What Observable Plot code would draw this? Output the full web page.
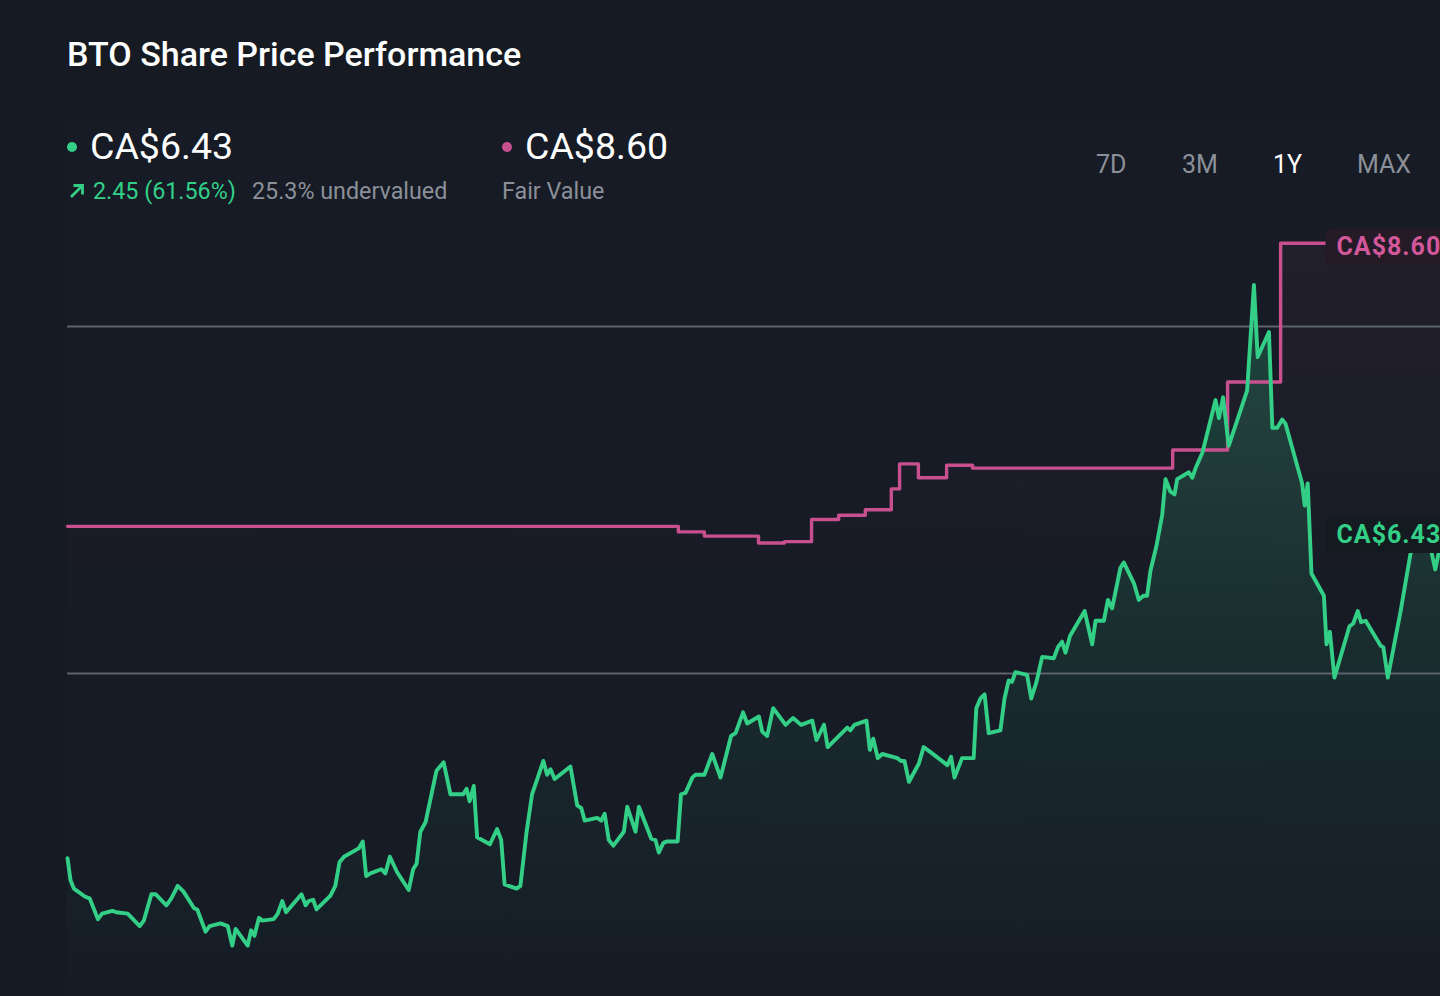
<!DOCTYPE html>
<html>
<head>
<meta charset="utf-8">
<script src="https://cdn.jsdelivr.net/npm/d3@7"></script>
<script src="https://cdn.jsdelivr.net/npm/@observablehq/plot@0.6"></script>
<style>
html,body{margin:0;padding:0;background:#151a23;width:1440px;height:996px;overflow:hidden;font-family:Roboto,"Noto Sans",sans-serif;}
#panel{position:absolute;left:67px;top:118px;width:1373px;height:878px;background:#161b25;}
#header{position:relative;height:215px;}
.abs{position:absolute;line-height:1;white-space:nowrap;}
.title{left:67px;top:37px;font-size:34px;font-weight:500;color:#ffffff;}
.big{font-size:37.5px;color:#ffffff;font-weight:400;}
.sub{font-size:23.3px;}
.dot{position:absolute;width:10px;height:10px;border-radius:50%;}
.per{font-size:25px;color:#8b9099;top:152px;}
#chart{position:relative;}
</style>
</head>
<body>
<div id="panel"></div>
<div id="header">
  <div class="abs title">BTO Share Price Performance</div>
  <div class="dot" style="left:67px;top:142px;background:#33cf87"></div>
  <div class="abs big" style="left:90px;top:128px">CA$6.43</div>
  <div class="abs sub" style="left:68px;top:180px;color:#33cf87">
    <svg width="18" height="18" viewBox="0 0 18 18" style="vertical-align:-1px;margin-right:7px"><path d="M3 15 L14 4 M5.5 3.5 H14.5 V12.5" stroke="#33cf87" stroke-width="2.8" fill="none"/></svg>2.45 (61.56%)</div>
  <div class="abs sub" style="left:252px;top:180px;color:#8b9099">25.3% undervalued</div>
  <div class="dot" style="left:502px;top:142px;background:#c8508f"></div>
  <div class="abs big" style="left:525px;top:128px">CA$8.60</div>
  <div class="abs sub" style="left:502px;top:180px;color:#8b9099">Fair Value</div>
  <div class="abs per" style="left:1096px">7D</div>
  <div class="abs per" style="left:1182px">3M</div>
  <div class="abs per" style="left:1273px;color:#ffffff">1Y</div>
  <div class="abs per" style="left:1357px">MAX</div>
</div>
<div id="chart"></div>
<script>
// Days since start of the 1Y window, and closing price (CA$)
const priceDays = [0,0.8,1.7,4.8,5.9,8.1,9.2,11.9,13.0,16.0,
19.2,20.3,22.3,23.4,26.3,27.6,29.3,30.8,33.6,34.5,
36.7,37.8,40.7,42.6,43.8,44.7,47.9,48.8,49.7,50.9,
51.8,54.8,55.9,57.1,58.1,62.2,63.3,64.1,65.3,66.2,
69.9,71.2,72.3,73.5,77.4,78.5,79.4,80.5,83.4,84.5,
85.7,87.6,90.7,91.9,92.8,93.8,95.2,98.1,100.0,101.8,
105.2,106.1,106.9,108.0,108.9,112.3,114.2,115.3,116.2,119.4,
120.4,122.0,123.5,124.9,126.5,127.5,128.4,129.5,133.7,135.5,
136.6,137.5,140.8,141.9,142.8,143.9,145.1,147.9,148.8,151.0,
151.9,155.2,156.3,157.2,158.4,159.4,162.2,163.1,164.3,166.1,
166.9,169.3,171.4,173.6,176.4,177.6,179.6,180.7,183.8,184.7,
186.0,187.6,190.9,192.9,195.0,198.0,199.1,201.1,202.1,207.3,
208.1,209.2,212.4,213.3,214.2,215.4,216.6,220.6,221.6,222.5,
223.7,226.3,227.6,229.6,233.9,234.9,235.8,237.8,240.9,241.6,
242.7,243.8,244.9,248.0,249.1,250.2,251.1,252.0,255.1,256.2,
257.6,259.1,262.2,263.3,264.4,265.3,266.5,270.4,272.4,273.3,
275.5,276.6,277.7,279.9,280.8,283.5,284.8,286.0,287.0,287.9,
289.5,291.0,291.9,293.2,294.3,295.0,298.1,299.0,299.9,301.7,
305.2,306.1,307.2,308.7,313.6,315.4,316.4,319.4,320.3,321.6,
322.9,323.8,328.2,328.9,329.7,330.7,334.0,334.7,335.6,336.8,
340.8,341.8,343.0,343.9,345.1,349.1,349.8,351.0,354.4,357.0,
358.1,361.0,362.3,363.6,365];
const priceValues = [4.17,4.01,3.95,3.89,3.88,3.73,3.77,3.79,3.78,3.77,
3.68,3.72,3.91,3.91,3.83,3.88,3.97,3.93,3.81,3.80,
3.64,3.68,3.70,3.68,3.54,3.66,3.54,3.65,3.61,3.74,
3.72,3.73,3.77,3.86,3.78,3.91,3.83,3.86,3.87,3.80,
3.90,3.97,4.14,4.18,4.24,4.29,4.04,4.06,4.09,4.06,
4.18,4.07,3.94,4.09,4.13,4.36,4.43,4.80,4.86,4.63,
4.63,4.67,4.58,4.69,4.32,4.27,4.38,4.30,3.98,3.95,
3.97,4.35,4.63,4.74,4.87,4.77,4.81,4.74,4.83,4.55,
4.53,4.44,4.46,4.44,4.49,4.30,4.26,4.36,4.54,4.36,
4.54,4.31,4.30,4.21,4.28,4.29,4.29,4.63,4.64,4.75,
4.77,4.77,4.92,4.75,5.05,5.07,5.22,5.14,5.19,5.08,
5.05,5.25,5.13,5.18,5.13,5.16,5.02,5.13,4.97,5.11,
5.09,5.13,5.16,4.95,5.03,4.89,4.92,4.89,4.87,4.87,
4.72,4.85,4.97,4.93,4.84,4.90,4.75,4.89,4.89,5.25,
5.32,5.35,5.07,5.09,5.32,5.45,5.44,5.51,5.49,5.32,
5.44,5.62,5.61,5.69,5.73,5.65,5.77,5.95,5.71,5.88,
5.88,6.03,5.97,6.26,6.30,6.15,6.03,6.06,6.06,6.24,
6.42,6.64,6.90,6.81,6.79,6.90,6.95,6.91,6.98,7.09,
7.47,7.34,7.49,7.14,7.54,8.30,7.78,7.96,7.27,7.27,
7.33,7.30,6.87,6.71,6.87,6.22,6.06,5.71,5.80,5.47,
5.84,5.86,5.95,5.87,5.88,5.70,5.69,5.47,5.95,6.36,
6.46,6.42,6.41,6.25,6.43];

// Fair value estimate (step changes)
const fairDays   = [0,162.4,169.3,183.7,190.6,197.8,205.0,212.1,219.0,221.2,226.2,233.7,240.6,293.8,308.4,322.5,365];
const fairValues = [6.56,6.52,6.49,6.44,6.45,6.61,6.64,6.68,6.83,7.01,6.91,7.00,6.98,7.11,7.60,8.60,8.60];

const gridValues = [5.5, 8];
const lastPriceLabel = "CA$6.43";
const lastFairLabel = "CA$8.60";

const price = priceDays.map((d, i) => ({day: d, value: priceValues[i]}));
const fair = fairDays.map((d, i) => ({day: d, value: fairValues[i]}));
const lastP = price[price.length - 1];
const lastF = fair[fair.length - 1];

const GREEN = "#33cf87", PINK = "#c8508f";
const H = 781;

const chart = Plot.plot({
  width: 1440,
  height: H,
  marginLeft: 67, marginRight: 0, marginTop: 0, marginBottom: 0,
  style: {background: "transparent", fontFamily: "Roboto, sans-serif", overflow: "hidden"},
  x: {domain: [0, 365], axis: null},
  y: {domain: [5.5, 8], range: [458, 111], axis: null},
  marks: [
    Plot.areaY(fair, {x: "day", y: "value", curve: "step-after", fill: "url(#fairGrad)"}),
    Plot.areaY(price, {x: "day", y: "value", fill: "url(#priceGrad)"}),
    Plot.ruleY(gridValues, {stroke: "#5d626d", strokeWidth: 2}),
    Plot.line(fair, {x: "day", y: "value", curve: "step-after", stroke: PINK, strokeWidth: 3.4}),
    Plot.line(price, {x: "day", y: "value", stroke: GREEN, strokeWidth: 3.9, strokeLinejoin: "round"}),
    Plot.text([{...lastF, label: lastFairLabel}], {x: "day", y: "value", text: "label", textAnchor: "start", dx: -104, dy: 4, fill: "#d2579b", fontSize: 25, fontWeight: 700}),
    Plot.text([{...lastP, label: lastPriceLabel}], {x: "day", y: "value", text: "label", textAnchor: "start", dx: -104, dy: -9, fill: GREEN, fontSize: 25, fontWeight: 700})
  ]
});

document.getElementById("chart").append(chart);

const ns = "http://www.w3.org/2000/svg";
const defs = document.createElementNS(ns, "defs");
defs.innerHTML =
  '<linearGradient id="priceGrad" gradientUnits="userSpaceOnUse" x1="0" y1="60" x2="0" y2="781">' +
  '<stop offset="0" stop-color="' + GREEN + '" stop-opacity="0.24"/>' +
  '<stop offset="0.55" stop-color="' + GREEN + '" stop-opacity="0.09"/>' +
  '<stop offset="1" stop-color="' + GREEN + '" stop-opacity="0"/></linearGradient>' +
  '<linearGradient id="fairGrad" gradientUnits="userSpaceOnUse" x1="0" y1="30" x2="0" y2="420">' +
  '<stop offset="0" stop-color="' + PINK + '" stop-opacity="0.07"/>' +
  '<stop offset="1" stop-color="' + PINK + '" stop-opacity="0"/></linearGradient>';
chart.insertBefore(defs, chart.firstChild);

const boxColors = {};
boxColors[lastFairLabel] = "#241b27";
boxColors[lastPriceLabel] = "#131b21";
Array.from(chart.querySelectorAll("text")).forEach(t => {
  const key = t.textContent.trim();
  if (!(key in boxColors)) return;
  t.style.letterSpacing = "1px";
  const bb = t.getBBox();
  const r = document.createElementNS(ns, "rect");
  const cy = bb.y + bb.height / 2;
  r.setAttribute("x", bb.x - 11);
  r.setAttribute("y", cy - 18);
  r.setAttribute("width", bb.width + 60);
  r.setAttribute("height", 36);
  r.setAttribute("rx", 5);
  r.setAttribute("fill", boxColors[key]);
  r.setAttribute("stroke", "none");
  const tr = t.getAttribute("transform");
  if (tr) r.setAttribute("transform", tr);
  t.parentNode.insertBefore(r, t);
});
</script>
</body>
</html>
